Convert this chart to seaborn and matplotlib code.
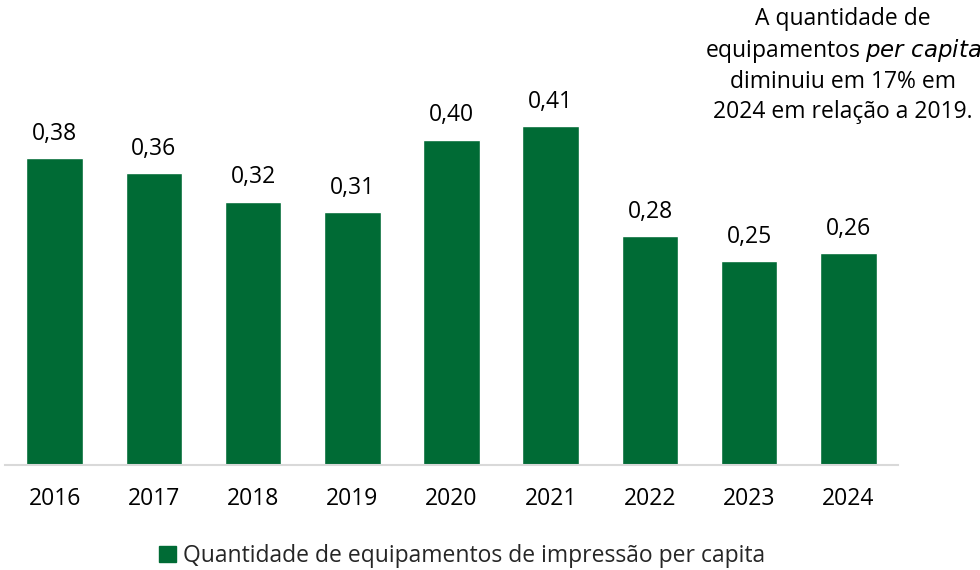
import matplotlib
matplotlib.use("Agg")
import matplotlib.pyplot as plt
from matplotlib.patches import Patch
import pandas as pd
import seaborn as sns

years = ["2016", "2017", "2018", "2019", "2020", "2021", "2022", "2023", "2024"]
per_capita = [0.375, 0.357, 0.322, 0.309, 0.398, 0.414, 0.280, 0.249, 0.259]
series_name = "Quantidade de equipamentos de impressão per capita"

green = "#006B35"
fs = 16.5

sns.set_style("white")
plt.rcParams["font.family"] = ["Open Sans", "DejaVu Sans"]

df = pd.DataFrame({"ano": years, "valor": per_capita})

fig = plt.figure(figsize=(9.8, 5.7), dpi=100)
ax = fig.add_axes([5 / 980, 105 / 570, 893 / 980, 368 / 570])

sns.barplot(data=df, x="ano", y="valor", color=green, saturation=1, width=0.57, ax=ax)
ax.set_ylim(0, 0.45)
ax.set_xlim(-0.5, len(years) - 0.5)

# data labels
for i, v in enumerate(per_capita):
    ax.annotate(f"{v:.2f}".replace(".", ","), (i, v), xytext=(0, 9),
                textcoords="offset points", ha="center", va="bottom",
                fontsize=fs, color="black")

ax.set_xlabel("")
ax.set_ylabel("")
ax.set_yticks([])
for s in ["top", "right", "left"]:
    ax.spines[s].set_visible(False)
ax.spines["bottom"].set_color("#d9d9d9")
ax.spines["bottom"].set_linewidth(1.5)
ax.tick_params(axis="x", length=0, pad=16, labelsize=fs, labelcolor="black")

# legend
fig.legend(handles=[Patch(color=green, label=series_name)], loc="center",
           bbox_to_anchor=(462 / 980, 1 - 556 / 570), frameon=False,
           fontsize=fs, handlelength=0.75, handleheight=0.75, handletextpad=0.3)

# note
fig.text(843 / 980, 1 - 7 / 570,
         "A quantidade de\nequipamentos $\\it{per\\ capita}$\ndiminuiu em 17% em\n2024 em relação a 2019.",
         ha="center", va="top", fontsize=fs, linespacing=1.3, color="black")

fig.savefig("out.png", dpi=100)
